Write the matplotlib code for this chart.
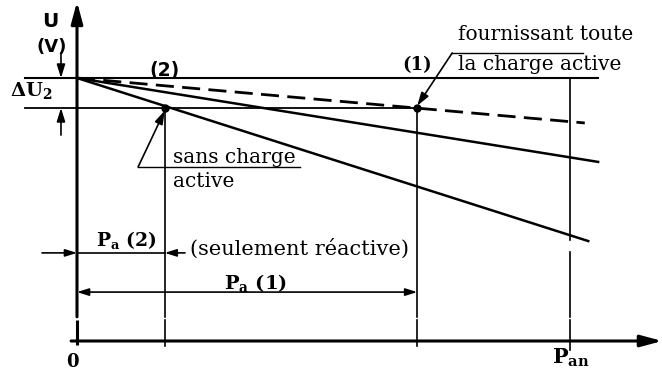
import matplotlib
matplotlib.use("Agg")
import matplotlib.pyplot as plt

# ---- data (P in units of P_an, U in units of U0) ----
U0 = 1.0
dU2 = 0.114
U_level = U0 - dU2
P_points = [0.178, 0.690]          # (2), (1)
P_an = 1.0
# characteristic lines: start at (0, U0), end values
line_end_P = [1.037, 1.057, 1.030]
line_end_U = [0.380, 0.681, 0.829]
line_styles = ['solid', 'solid', 'dashed']

x_ticks = [0.0, P_points[0], P_points[1], P_an]

plt.rcParams['mathtext.fontset'] = 'dejavuserif'

fig = plt.figure(figsize=(6.62, 3.70), dpi=100)
ax = fig.add_axes([0, 0, 1, 1])
ax.set_xlim(-77 / 493, 585 / 493)
ax.set_ylim(-29 / 263, 341 / 263)
ax.axis('off')

K = 'black'
serif = 'DejaVu Serif'
sans = 'DejaVu Sans'
TS = 14.5  # annotation text size

# axes (y with small break)
gap_lo, gap_hi = 0.080, 0.092
ax.plot([0, 0], [-0.015, gap_lo], color=K, lw=2.2, solid_capstyle='butt')
ax.annotate('', xy=(0, 1.29), xytext=(0, gap_hi),
            arrowprops=dict(arrowstyle='-|>,head_length=1.3,head_width=0.35', lw=2.2, color=K, shrinkA=0, shrinkB=0))
ax.annotate('', xy=(1.187, 0), xytext=(-0.012, 0),
            arrowprops=dict(arrowstyle='-|>,head_length=1.3,head_width=0.35', lw=2.2, color=K, shrinkA=0, shrinkB=0))

# horizontal reference lines
ax.plot([-0.105, 1.057], [U0, U0], color=K, lw=1.5)
ax.plot([-0.105, 0.696], [U_level, U_level], color=K, lw=1.3)

# characteristic lines
for ep, eu, ls in zip(line_end_P, line_end_U, line_styles):
    if ls == 'dashed':
        ax.plot([0, ep], [U0, eu], color=K, lw=2.0, dashes=(6.5, 3.0))
    else:
        ax.plot([0, ep], [U0, eu], color=K, lw=1.8)

# points
ax.plot(P_points, [U_level, U_level], 'o', color=K, ms=5)

# vertical guide lines with break
for p in P_points:
    ax.plot([p, p], [U_level, gap_hi], color=K, lw=1.2)
    ax.plot([p, p], [gap_lo, -0.018], color=K, lw=1.2)
ax.plot([P_an, P_an], [U0, 0.384], color=K, lw=1.2)
ax.plot([P_an, P_an], [0.338, gap_hi], color=K, lw=1.2)
ax.plot([P_an, P_an], [gap_lo, -0.035], color=K, lw=1.2)

# delta U2 arrows
ax.annotate('', xy=(-0.0325, U0), xytext=(-0.0325, 1.095),
            arrowprops=dict(arrowstyle='-|>,head_length=0.8,head_width=0.25', lw=1.2, color=K, shrinkA=0, shrinkB=0))
ax.annotate('', xy=(-0.0325, U_level), xytext=(-0.0325, 0.783),
            arrowprops=dict(arrowstyle='-|>,head_length=0.8,head_width=0.25', lw=1.2, color=K, shrinkA=0, shrinkB=0))

# texts
ax.text(-0.0548, 1.213, 'U', family=sans, weight='bold', fontsize=14.5, ha='center', va='center')
ax.text(-0.0507, 1.118, '(V)', family=sans, weight='bold', fontsize=13, ha='center', va='center')
ax.text(-0.136, 0.951, r'$\mathbf{\Delta U_2}$', fontsize=14, ha='left', va='center')
ax.text(P_points[0], 1.030, '(2)', family=sans, weight='bold', fontsize=13.5, ha='center', va='center')
ax.text(P_points[1], 1.049, '(1)', family=serif, weight='bold', fontsize=13, ha='center', va='center')

ax.text(0.773, 1.144, 'fournissant toute', family=serif, fontsize=TS, ha='left', va='baseline')
ax.text(0.773, 1.030, 'la charge active', family=serif, fontsize=TS, ha='left', va='baseline')
ax.plot([0.761, 1.026], [1.095, 1.095], color=K, lw=1.0)
ax.annotate('', xy=(P_points[1], U_level + 0.008), xytext=(0.761, 1.095),
            arrowprops=dict(arrowstyle='-|>,head_length=0.8,head_width=0.25', lw=1.2, color=K, shrinkA=0, shrinkB=0))

ax.text(0.195, 0.677, 'sans charge', family=serif, fontsize=TS, ha='left', va='baseline')
ax.text(0.195, 0.586, 'active', family=serif, fontsize=TS, ha='left', va='baseline')
ax.plot([0.124, 0.452], [0.662, 0.662], color=K, lw=1.0)
ax.annotate('', xy=(P_points[0], U_level - 0.010), xytext=(0.124, 0.662),
            arrowprops=dict(arrowstyle='-|>,head_length=0.8,head_width=0.25', lw=1.2, color=K, shrinkA=0, shrinkB=0))

# Pa(2) dimension
y2 = 0.335
ax.annotate('', xy=(0, y2), xytext=(-0.071, y2),
            arrowprops=dict(arrowstyle='-|>,head_length=0.7,head_width=0.22', lw=1.2, color=K, shrinkA=0, shrinkB=0))
ax.plot([0, P_points[0]], [y2, y2], color=K, lw=1.2)
ax.annotate('', xy=(P_points[0], y2), xytext=(0.219, y2),
            arrowprops=dict(arrowstyle='-|>,head_length=0.7,head_width=0.22', lw=1.2, color=K, shrinkA=0, shrinkB=0))
ax.text(0.101, 0.384, r'$\mathbf{P_a}$ (2)', family=serif, weight='bold', fontsize=13.5, ha='center', va='center')
ax.text(0.229, 0.350, '(seulement réactive)', family=serif, fontsize=15, ha='left', va='center')

# Pa(1) dimension
y1 = 0.186
ax.annotate('', xy=(0, y1), xytext=(P_points[1], y1),
            arrowprops=dict(arrowstyle='<|-|>,head_length=0.7,head_width=0.22', lw=1.2, color=K, shrinkA=0, shrinkB=0))
ax.text(0.363, 0.221, r'$\mathbf{P_a}$ (1)', family=serif, weight='bold', fontsize=14, ha='center', va='center')

# x labels
ax.text(x_ticks[0] - 0.010, -0.080, '0', family=serif, weight='bold', fontsize=13, ha='center', va='center')
ax.text(P_an + 0.002, -0.065, r'$\mathbf{P_{an}}$', fontsize=15, ha='center', va='center')

fig.savefig('out.png', dpi=100)
